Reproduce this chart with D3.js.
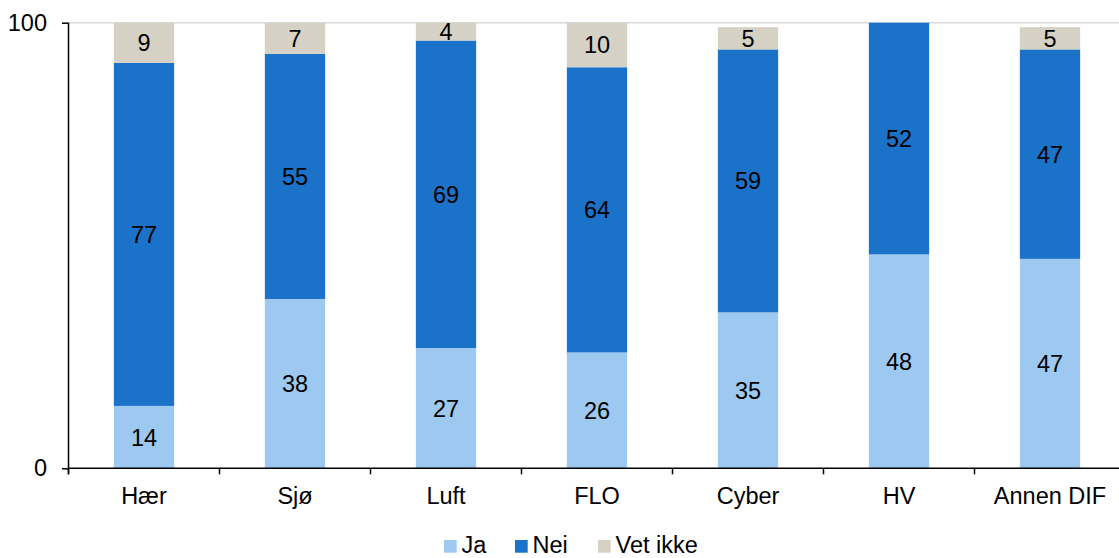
<!DOCTYPE html>
<html>
<head>
<meta charset="utf-8">
<script src="https://cdn.jsdelivr.net/npm/d3@7"></script>
<style>
  html, body { margin: 0; padding: 0; background: #fff; }
  svg { display: block; font-family: "Liberation Sans", Arial, sans-serif; }
</style>
</head>
<body>
<svg id="chart" width="1119" height="558"></svg>
<script>
// Survey answers per branch (percent)
const categories = ["Hær", "Sjø", "Luft", "FLO", "Cyber", "HV", "Annen DIF"];
const ja = [14, 38, 27, 26, 35, 48, 47];
const nei = [77, 55, 69, 64, 59, 52, 47];
const vetIkke = [9, 7, 4, 10, 5, 0, 5];
const seriesNames = ["Ja", "Nei", "Vet ikke"];
const yTicks = [0, 100];

const colors = { "Ja": "#9DC8F0", "Nei": "#1B72C9", "Vet ikke": "#D6D1C5" };

const W = 1119, H = 558;
const plotLeft = 68.5, plotRight = 1125.5;   // plot area runs slightly past the right edge
const plotTop = 22.7, plotBottom = 468.3;
const FS = 23.5;

const svg = d3.select("#chart");

const rows = categories.map((c, i) => ({ cat: c, "Ja": ja[i], "Nei": nei[i], "Vet ikke": vetIkke[i] }));
const stacked = d3.stack().keys(seriesNames)(rows);

const x = d3.scaleBand().domain(categories).range([plotLeft, plotRight]).paddingInner(0).paddingOuter(0);
const y = d3.scaleLinear().domain([0, 100]).range([plotBottom, plotTop]);
const barW = 60.3;

// top border line of the plot area
svg.append("line")
  .attr("x1", plotLeft).attr("x2", W)
  .attr("y1", y(100)).attr("y2", y(100))
  .attr("stroke", "#D9D9D9").attr("stroke-width", 1.5);

// stacked bars
const layers = svg.append("g").selectAll("g").data(stacked).join("g")
  .attr("fill", d => colors[d.key]);

layers.selectAll("rect").data(d => d).join("rect")
  .attr("x", d => x(d.data.cat) + x.bandwidth() / 2 - barW / 2)
  .attr("width", barW)
  .attr("y", d => y(d[1]))
  .attr("height", d => y(d[0]) - y(d[1]));

// value labels inside segments
stacked.forEach(layer => {
  svg.append("g").selectAll("text").data(layer.filter(d => d[1] - d[0] > 0)).join("text")
    .attr("x", d => x(d.data.cat) + x.bandwidth() / 2)
    .attr("y", d => (y(d[0]) + y(d[1])) / 2)
    .attr("dy", "0.36em")
    .attr("text-anchor", "middle")
    .attr("font-size", FS)
    .attr("fill", "#000")
    .text(d => d[1] - d[0]);
});

// y axis
const yAxis = d3.axisLeft(y).tickValues(yTicks).tickSize(6.5).tickPadding(15);
const gy = svg.append("g").attr("transform", `translate(${plotLeft},0)`).call(yAxis);
gy.select(".domain").attr("stroke", "#000").attr("stroke-width", 1.5)
  .attr("d", `M0,${y(0) + 6}V${y(100)}`);
gy.selectAll(".tick line").attr("stroke", "#000").attr("stroke-width", 1.5);
gy.selectAll(".tick text").attr("font-size", FS).attr("fill", "#000")
  .attr("font-family", "Liberation Sans, Arial, sans-serif");

// x axis with ticks at category boundaries
svg.append("line")
  .attr("x1", plotLeft).attr("x2", W)
  .attr("y1", plotBottom).attr("y2", plotBottom)
  .attr("stroke", "#000").attr("stroke-width", 1.5);
const bounds = categories.map(c => x(c));
svg.append("g").selectAll("line").data(bounds).join("line")
  .attr("x1", d => d).attr("x2", d => d)
  .attr("y1", plotBottom).attr("y2", plotBottom + 6)
  .attr("stroke", "#000").attr("stroke-width", 1.5);
svg.append("g").selectAll("text").data(categories).join("text")
  .attr("x", d => x(d) + x.bandwidth() / 2)
  .attr("y", 503.5)
  .attr("text-anchor", "middle")
  .attr("font-size", FS)
  .attr("fill", "#000")
  .text(d => d);

// legend
const legendX = [444, 515, 598];
const lg = svg.append("g").selectAll("g").data(seriesNames).join("g")
  .attr("transform", (d, i) => `translate(${legendX[i]},540)`);
lg.append("rect").attr("width", 12.7).attr("height", 12.7).attr("fill", d => colors[d]);
lg.append("text").attr("x", 17.5).attr("y", 12.5)
  .attr("font-size", FS).attr("fill", "#000").text(d => d);
</script>
</body>
</html>
